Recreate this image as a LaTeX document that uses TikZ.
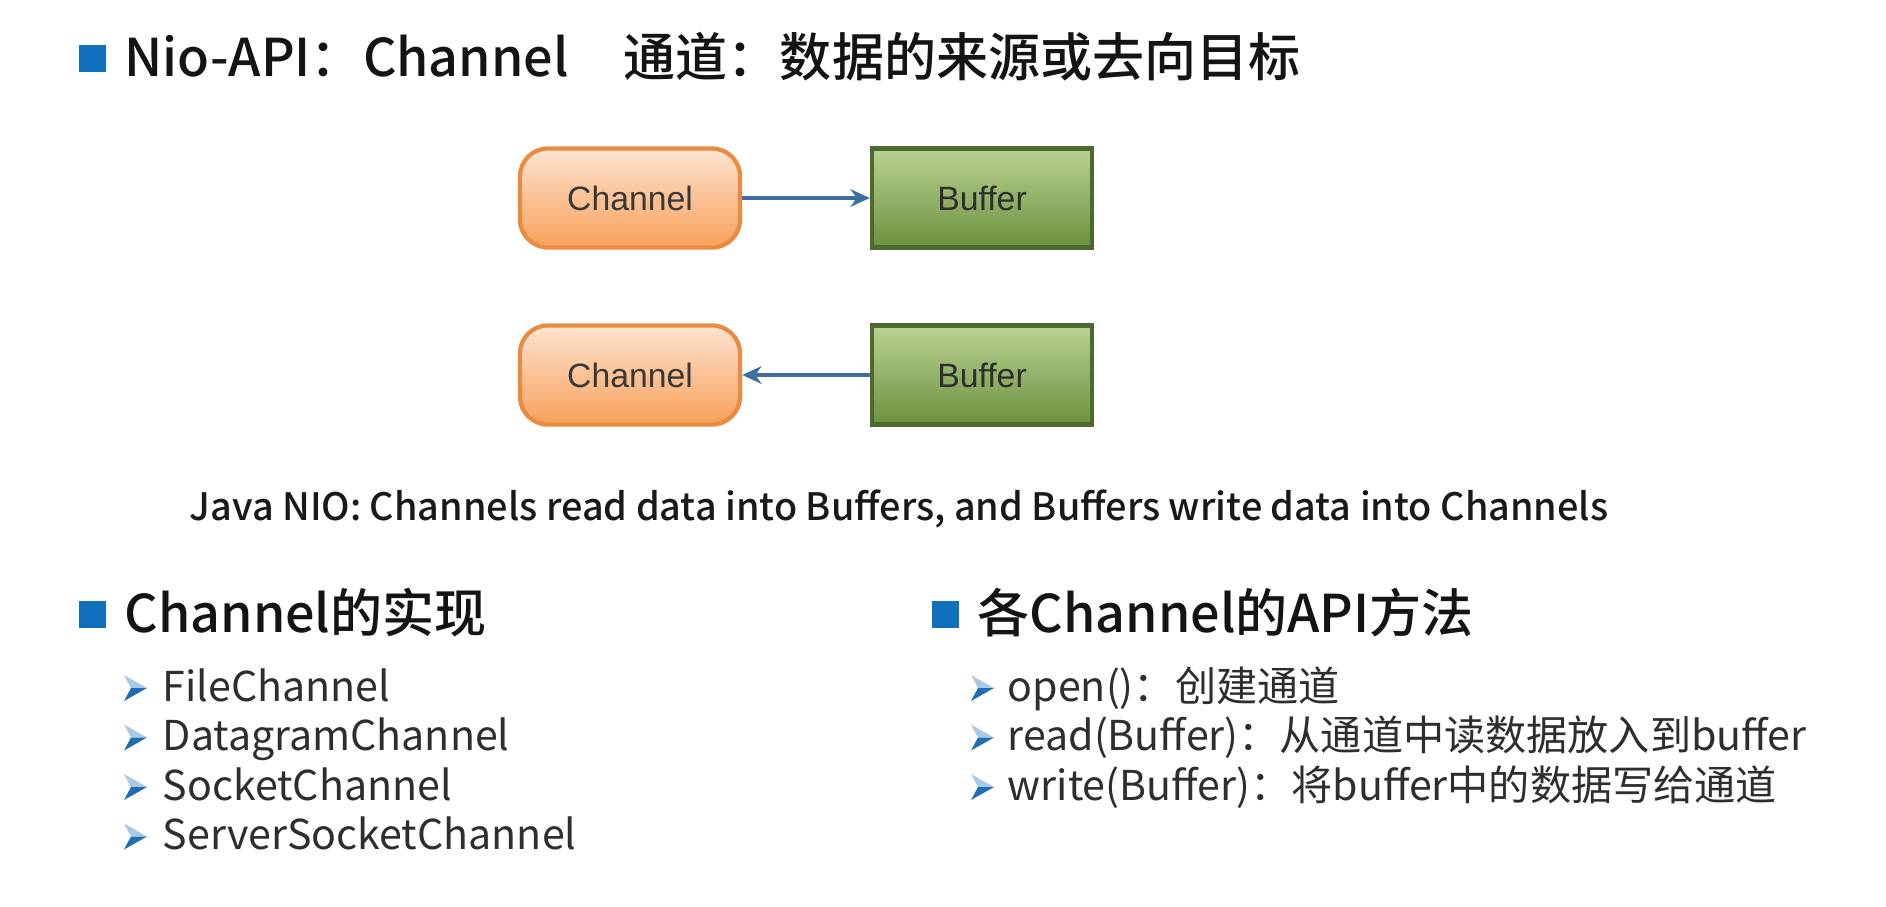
\documentclass[tikz,border=0pt]{standalone}
\usepackage{fontspec}
\setmainfont{Noto Sans CJK SC}
\newfontfamily\headfont[UprightFont={* Medium}]{Noto Sans CJK SC}
\newfontfamily\capfont[UprightFont={* Medium}]{Noto Sans CJK SC}
\newfontfamily\boxfont{Liberation Sans}
\usetikzlibrary{arrows.meta}
\definecolor{slideblue}{HTML}{1070BE}
\definecolor{chantop}{HTML}{FDE4D0}
\definecolor{chanbot}{HTML}{F8A05A}
\definecolor{chanline}{HTML}{E98B40}
\definecolor{buftop}{HTML}{BAD292}
\definecolor{bufbot}{HTML}{6B913F}
\definecolor{bufline}{HTML}{4C6A2E}
\definecolor{flowblue}{HTML}{3D6FA2}
\definecolor{itemgray}{HTML}{2E2E2E}
\definecolor{bulletlight}{HTML}{A9C9E8}
\definecolor{bulletdark}{HTML}{1F6DB3}
\tikzset{
	chanbox/.style={draw=chanline, line width=1.2pt, rounded corners=0.28cm, top color=chantop, bottom color=chanbot, minimum width=2.2cm, minimum height=0.99cm, inner sep=0pt, font=\boxfont\fontsize{9.6}{11}\selectfont, text=black!78},
	bufbox/.style={draw=bufline, line width=1.2pt, top color=buftop, bottom color=bufbot, minimum width=2.2cm, minimum height=0.99cm, inner sep=0pt, font=\boxfont\fontsize{9.6}{11}\selectfont, text=black!82},
	flow/.style={draw=flowblue, line width=0.9pt, -{Stealth[length=5.5pt,width=5pt]}},
	headtext/.style={anchor=base west, inner sep=0pt, font=\headfont\fontsize{14.8}{17}\selectfont, text=black!92},
	itemtext/.style={anchor=base west, inner sep=0pt, font=\fontsize{11.7}{14}\selectfont, text=itemgray},
	captext/.style={inner sep=0pt, font=\capfont\fontsize{10.75}{13}\selectfont, text=black!90},
	bulletarrow/.pic={
		\fill[bulletlight] (-11,-13) -- (12,0) -- (-4,0) -- cycle;
		\fill[bulletdark] (-4,0) -- (12,0) -- (-11,13) -- cycle;
	}
}

\begin{document}
\begin{tikzpicture}[x=0.01cm, y=-0.01cm]
				\useasboundingbox[fill=white] (0,0) rectangle (1886,906);
				
				\fill[slideblue] (79,45) rectangle (106,72);
				\node[headtext] (title) at (124,76) {Nio-API：Channel\hspace{0.55cm}通道：数据的来源或去向目标};
				
				\node[chanbox] (chan1) at (630,198) {Channel};
				\node[bufbox] (buf1) at (982,198) {Buffer};
				\draw[flow] (chan1) -- (buf1);
				
				\node[chanbox] (chan2) at (630,375) {Channel};
				\node[bufbox] (buf2) at (982,375) {Buffer};
				\draw[flow] (buf2) -- (chan2);
				
				\node[captext] (caption) at (899,509) {Java NIO: Channels read data into Buffers, and Buffers write data into Channels};
				
				\fill[slideblue] (79,601) rectangle (106,628);
				\node[headtext] (impl) at (124,632) {Channel的实现};
				\foreach \name [count=\i] in {FileChannel, DatagramChannel, SocketChannel, ServerSocketChannel} {
					\pic at (135,{701+49.5*(\i-1)-13}) {bulletarrow};
					\node[itemtext] (impl\i) at (162,{701+49.5*(\i-1)}) {\name};
				}
				
				\fill[slideblue] (932,601) rectangle (959,628);
				\node[headtext] (api) at (977,632) {各Channel的API方法};
				\foreach \name [count=\i] in {open()：创建通道, read(Buffer)：从通道中读数据放入到buffer, write(Buffer)：将buffer中的数据写给通道} {
					\pic at (982,{701+49.5*(\i-1)-13}) {bulletarrow};
					\node[itemtext] (api\i) at (1007,{701+49.5*(\i-1)}) {\name};
				}
			\end{tikzpicture}
\end{document}
